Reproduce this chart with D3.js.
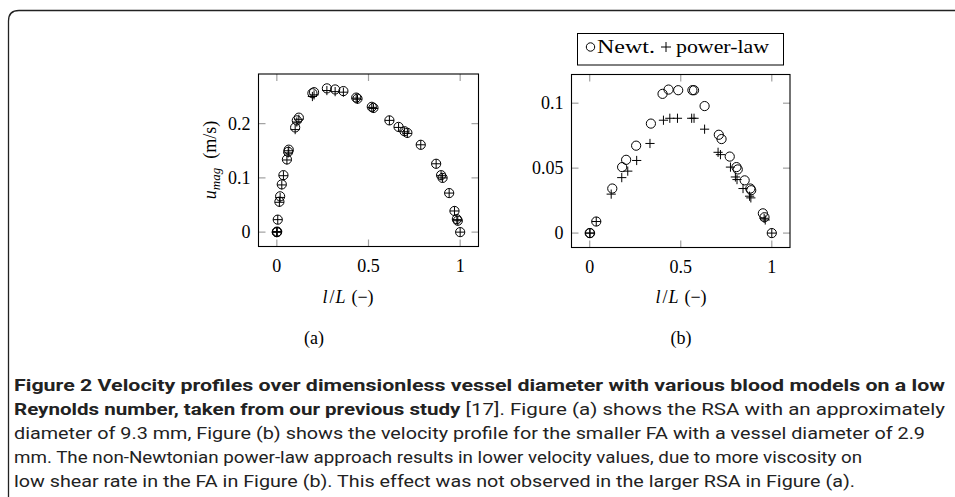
<!DOCTYPE html>
<html>
<head>
<meta charset="utf-8">
<script src="https://cdn.jsdelivr.net/npm/d3@7"></script>
<style>
  body { margin: 0; background: #fff; }
  svg { display: block; }
  .tick-lbl, .ax-lbl, .sub-lbl, .leg { font-family: "Liberation Serif", "DejaVu Serif", serif; fill: #000; }
  .cap { font-family: "Liberation Sans Narrow", "Roboto", "Liberation Sans", sans-serif; fill: #222; font-size: 17px; }
</style>
</head>
<body>
<div id="svg-container"></div>
<script>
////////////////////////////////////////////////////////////////////
////////////////////////////  Data  ////////////////////////////////

// (a) RSA
const xA_newt = [0, 0, 0.002, 0.005, 0.014, 0.018, 0.027, 0.036, 0.055, 0.062, 0.065, 0.1, 0.109, 0.12, 0.194, 0.203, 0.273, 0.318, 0.363, 0.433, 0.44, 0.518, 0.527, 0.614, 0.664, 0.696, 0.712, 0.785, 0.869, 0.896, 0.904, 0.94, 0.969, 0.982, 0.987, 1];
const yA_newt = [0, 0, 0.001, 0.023, 0.056, 0.066, 0.088, 0.105, 0.134, 0.148, 0.152, 0.193, 0.206, 0.211, 0.256, 0.258, 0.265, 0.263, 0.26, 0.248, 0.246, 0.231, 0.229, 0.206, 0.194, 0.186, 0.183, 0.161, 0.126, 0.105, 0.1, 0.072, 0.039, 0.024, 0.021, 0];
const xA_pow = [0, 0, 0.002, 0.005, 0.014, 0.018, 0.027, 0.036, 0.055, 0.062, 0.065, 0.1, 0.109, 0.12, 0.194, 0.203, 0.273, 0.318, 0.363, 0.433, 0.44, 0.518, 0.527, 0.614, 0.664, 0.696, 0.712, 0.785, 0.869, 0.896, 0.904, 0.94, 0.969, 0.982, 0.987, 1];
const yA_pow = [0, 0, 0.001, 0.023, 0.055, 0.064, 0.087, 0.104, 0.133, 0.146, 0.15, 0.189, 0.203, 0.208, 0.25, 0.253, 0.261, 0.259, 0.258, 0.247, 0.245, 0.23, 0.228, 0.206, 0.193, 0.185, 0.182, 0.161, 0.126, 0.104, 0.1, 0.072, 0.039, 0.023, 0.021, 0];

// (b) FA
const xB_newt = [0, 0.002, 0.036, 0.124, 0.178, 0.2, 0.255, 0.336, 0.4, 0.433, 0.486, 0.564, 0.573, 0.631, 0.709, 0.724, 0.769, 0.806, 0.813, 0.851, 0.882, 0.887, 0.951, 0.96, 1];
const yB_newt = [0, 0, 0.0089, 0.0343, 0.0508, 0.0564, 0.0673, 0.0843, 0.1072, 0.1105, 0.11, 0.11, 0.11, 0.0978, 0.0757, 0.0724, 0.0589, 0.0508, 0.049, 0.0406, 0.0343, 0.033, 0.0152, 0.0122, 0];
const xB_pow = [0, 0.002, 0.036, 0.118, 0.176, 0.209, 0.258, 0.331, 0.405, 0.44, 0.482, 0.56, 0.573, 0.631, 0.705, 0.718, 0.773, 0.8, 0.809, 0.842, 0.878, 0.885, 0.958, 0.964, 1];
const yB_pow = [0, 0, 0.0089, 0.03, 0.0427, 0.0477, 0.0559, 0.069, 0.0869, 0.0884, 0.0884, 0.0884, 0.0884, 0.08, 0.0622, 0.0604, 0.0508, 0.0432, 0.0412, 0.0343, 0.0284, 0.0271, 0.0114, 0.0101, 0];

const xTicks = [0, 0.5, 1];
const yTicksA = [0, 0.1, 0.2];
const yTicksB = [0, 0.05, 0.1];

const captionLines = [
  [["b", "Figure 2 Velocity profiles over dimensionless vessel diameter with various blood models on a low"]],
  [["b", "Reynolds number, taken from our previous study"], ["n", " [17]. Figure (a) shows the RSA with an approximately"]],
  [["n", "diameter of 9.3 mm, Figure (b) shows the velocity profile for the smaller FA with a vessel diameter of 2.9"]],
  [["n", "mm. The non-Newtonian power-law approach results in lower velocity values, due to more viscosity on"]],
  [["n", "low shear rate in the FA in Figure (b). This effect was not observed in the larger RSA in Figure (a)."]]
];
const captionWidths = [931, 931, 911, 848, 841];

////////////////////////////////////////////////////////////////////
////////////////////////////  Init  ////////////////////////////////

const width = 955;
const height = 497;
const fs = 18;

const svg = d3.select("#svg-container").append("svg")
  .attr("width", width)
  .attr("height", height);

// outer frame (open to the right and bottom)
svg.append("path")
  .attr("d", "M955,10.5 L19,10.5 Q8.5,10.5 8.5,21 L8.5,497")
  .attr("fill", "none")
  .attr("stroke", "#222")
  .attr("stroke-width", 1.3);

const r = 4.6;

function drawPanel(opt) {
  const xScale = d3.scaleLinear().domain([-0.1, 1.1]).range([opt.left, opt.right]);
  const yScale = d3.scaleLinear().domain(opt.yDomain).range([opt.bottom, opt.top]);
  const g = svg.append("g");
  const tickLen = 7;

  // ticks inside the frame on all sides
  const tk = g.append("g").attr("stroke", "#a0a0a0").attr("stroke-width", 1.2);
  xTicks.forEach((t) => {
    tk.append("line").attr("x1", xScale(t)).attr("x2", xScale(t)).attr("y1", opt.bottom).attr("y2", opt.bottom - tickLen);
    tk.append("line").attr("x1", xScale(t)).attr("x2", xScale(t)).attr("y1", opt.top).attr("y2", opt.top + tickLen);
  });
  opt.yTicks.forEach((t) => {
    tk.append("line").attr("x1", opt.left).attr("x2", opt.left + tickLen).attr("y1", yScale(t)).attr("y2", yScale(t));
    tk.append("line").attr("x1", opt.right).attr("x2", opt.right - tickLen).attr("y1", yScale(t)).attr("y2", yScale(t));
  });

  g.append("rect")
    .attr("x", opt.left).attr("y", opt.top)
    .attr("width", opt.right - opt.left).attr("height", opt.bottom - opt.top)
    .attr("fill", "none").attr("stroke", "#000").attr("stroke-width", 1.1);

  // tick labels
  g.selectAll(".xl").data(xTicks).join("text")
    .attr("class", "tick-lbl")
    .attr("x", (d) => xScale(d)).attr("y", opt.bottom + 25)
    .attr("text-anchor", "middle").attr("font-size", fs)
    .text((d) => d3.format("")(d));
  g.selectAll(".yl").data(opt.yTicks).join("text")
    .attr("class", "tick-lbl")
    .attr("x", opt.left - 8).attr("y", (d) => yScale(d) + 6)
    .attr("text-anchor", "end").attr("font-size", fs)
    .text((d) => d3.format("")(d));

  // markers
  const newt = opt.xNewt.map((x, i) => [x, opt.yNewt[i]]);
  const pow = opt.xPow.map((x, i) => [x, opt.yPow[i]]);
  g.selectAll(".c").data(newt).join("circle")
    .attr("cx", (d) => xScale(d[0])).attr("cy", (d) => yScale(d[1])).attr("r", r)
    .attr("fill", "none").attr("stroke", "#000").attr("stroke-width", 1);
  g.selectAll(".p").data(pow).join("path")
    .attr("d", (d) => {
      const cx = xScale(d[0]), cy = yScale(d[1]);
      return `M${cx - r},${cy}H${cx + r}M${cx},${cy - r}V${cy + r}`;
    })
    .attr("fill", "none").attr("stroke", "#000").attr("stroke-width", 1);

  // x label
  const xl = g.append("text").attr("class", "ax-lbl")
    .attr("x", opt.xLabelX).attr("y", 303).attr("text-anchor", "middle").attr("font-size", fs);
  xl.append("tspan").attr("font-style", "italic").text("l");
  xl.append("tspan").attr("dx", 2).text("/");
  xl.append("tspan").attr("dx", 1).attr("font-style", "italic").text("L");
  xl.append("tspan").attr("dx", 6).text("(−)");

  // sub caption
  g.append("text").attr("class", "sub-lbl")
    .attr("x", opt.subX).attr("y", 344).attr("text-anchor", "middle").attr("font-size", fs)
    .text(opt.sub);

  return { xScale, yScale };
}

drawPanel({
  left: 258.5, right: 478.5, top: 74, bottom: 246.5,
  yDomain: [-0.0265, 0.2915], yTicks: yTicksA,
  xNewt: xA_newt, yNewt: yA_newt, xPow: xA_pow, yPow: yA_pow,
  xLabelX: 348, subX: 314, sub: "(a)"
});

drawPanel({
  left: 571.5, right: 790, top: 74.5, bottom: 247.5,
  yDomain: [-0.0111, 0.1221], yTicks: yTicksB,
  xNewt: xB_newt, yNewt: yB_newt, xPow: xB_pow, yPow: yB_pow,
  xLabelX: 681, subX: 681, sub: "(b)"
});

// y label (a)
const yl = svg.append("text").attr("class", "ax-lbl")
  .attr("transform", "translate(216,160) rotate(-90)")
  .attr("text-anchor", "middle").attr("font-size", fs);
yl.append("tspan").attr("font-style", "italic").text("u");
yl.append("tspan").attr("font-style", "italic").attr("font-size", 13).attr("dy", 4).text("mag");
yl.append("tspan").attr("dy", -4).attr("dx", 9).text("(m/s)");

// legend
const leg = svg.append("g");
leg.append("rect").attr("x", 577.5).attr("y", 33.5).attr("width", 206).attr("height", 31.5)
  .attr("fill", "#fff").attr("stroke", "#000").attr("stroke-width", 1);
leg.append("circle").attr("cx", 590.5).attr("cy", 47).attr("r", 4.2)
  .attr("fill", "none").attr("stroke", "#000").attr("stroke-width", 1);
leg.append("text").attr("class", "leg").attr("x", 597).attr("y", 53).attr("font-size", fs)
  .attr("textLength", 58).attr("lengthAdjust", "spacingAndGlyphs").text("Newt.");
leg.append("path").attr("d", "M661,47H671M666,42V52").attr("stroke", "#000").attr("stroke-width", 1);
leg.append("text").attr("class", "leg").attr("x", 676).attr("y", 53).attr("font-size", fs)
  .attr("textLength", 93).attr("lengthAdjust", "spacingAndGlyphs").text("power-law");

// caption
captionLines.forEach((line, i) => {
  const t = svg.append("text").attr("class", "cap")
    .attr("x", 14).attr("y", 391 + i * 24)
    .attr("textLength", captionWidths[i]).attr("lengthAdjust", "spacingAndGlyphs");
  line.forEach(([w, s]) => {
    t.append("tspan").attr("font-weight", w === "b" ? "bold" : "normal").text(s);
  });
});
</script>
</body>
</html>
